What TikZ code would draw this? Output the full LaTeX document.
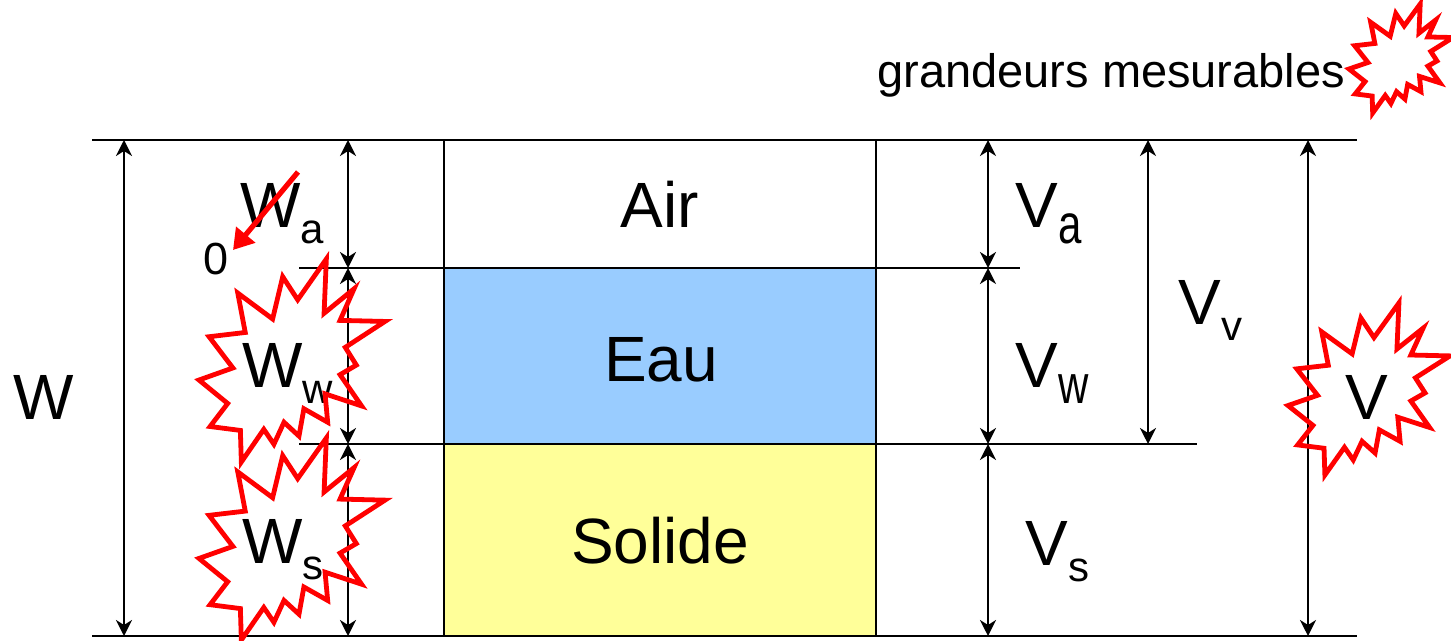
\documentclass[tikz,border=0pt]{standalone}
\usepackage{fontspec}
\setmainfont{Liberation Sans}
\usetikzlibrary{arrows.meta}
\definecolor{eaublue}{HTML}{99CCFF}
\definecolor{solyellow}{HTML}{FFFF99}
\definecolor{boomred}{HTML}{FF0000}
\newcommand\lowsub[2][1]{\raisebox{-8pt}{\scalebox{1}[#1]{\fontsize{21}{21}\selectfont #2}}}
\tikzset{
  big/.style={inner sep=0pt, anchor=base west, font=\fontsize{32}{36}\selectfont},
  phase/.style={inner sep=0pt, anchor=base, font=\fontsize{32}{36}\selectfont},
  thinline/.style={line width=1pt, black},
  dimarrow/.style={line width=1.1pt, black, {Stealth[length=8pt,width=8pt,inset=2.5pt]}-{Stealth[length=8pt,width=8pt,inset=2.5pt]}},
  boomline/.style={draw=boomred, line width=2.4pt, line join=miter},
  boom/.pic={
    \draw[boomline] (114.62,43.42) -- (147.90,0) -- (145.25,57.77) -- (180.07,31.72) -- (163.80,65.32) -- (216,66.45) -- (169.85,94.02) -- (182.70,112.90) -- (163.80,123.10) -- (188.77,156.32) -- (146.40,143.50) -- (149.42,173.70) -- (121.80,159.35) -- (116.12,188.42) -- (98.72,173.70) -- (87,197.12) -- (75.27,181.25) -- (49.17,216) -- (48.05,182.40) -- (12.85,178.25) -- (33.30,153.70) -- (0,128.77) -- (39.35,115.92) -- (11.72,82.70) -- (53.72,78.17) -- (45.02,36.25) -- (85.50,63.82) -- (97.22,18.87) -- cycle;
  }
}
\begin{document}
\begin{tikzpicture}[x=0.5pt,y=-0.5pt]
\clip (0,0) rectangle (1451,641);
\fill[white] (0,0) rectangle (1451,641);

% phase fills
\fill[eaublue] (444,268) rectangle (876,444);
\fill[solyellow] (444,444) rectangle (876,636);

% horizontal reference lines
\coordinate (topL) at (92,140);   \coordinate (topR) at (1357,140);
\coordinate (botL) at (92,636);   \coordinate (botR) at (1357,636);
\coordinate (m1L) at (299,268);   \coordinate (m1R) at (1020,268);
\coordinate (m2L) at (299,444);   \coordinate (m2R) at (1197,444);
\draw[thinline] (topL) -- (topR);
\draw[thinline] (botL) -- (botR);
\draw[thinline] (m1L) -- (m1R);
\draw[thinline] (m2L) -- (m2R);

% box sides
\coordinate (bxLt) at (444,140); \coordinate (bxLb) at (444,636);
\coordinate (bxRt) at (876,140); \coordinate (bxRb) at (876,636);
\draw[thinline] (bxLt) -- (bxLb);
\draw[thinline] (bxRt) -- (bxRb);

% dimension arrows
\coordinate (w0) at (124,140); \coordinate (w1) at (124,636);
\draw[dimarrow] (w0) -- (w1);
\coordinate (p0) at (348,140); \coordinate (p1) at (348,268);
\coordinate (p2) at (348,444); \coordinate (p3) at (348,636);
\draw[dimarrow] (p0) -- (p1);
\draw[dimarrow] (p1) -- (p2);
\draw[dimarrow] (p2) -- (p3);
\coordinate (q0) at (988,140); \coordinate (q1) at (988,268);
\coordinate (q2) at (988,444); \coordinate (q3) at (988,636);
\draw[dimarrow] (q0) -- (q1);
\draw[dimarrow] (q1) -- (q2);
\draw[dimarrow] (q2) -- (q3);
\coordinate (vv0) at (1148,140); \coordinate (vv1) at (1148,444);
\draw[dimarrow] (vv0) -- (vv1);
\coordinate (v0) at (1308,140); \coordinate (v1) at (1308,636);
\draw[dimarrow] (v0) -- (v1);

% phase labels
\node[phase] (air) at (660,228) {Air};
\node[phase] (eau) at (661,382) {Eau};
\node[phase] (sol) at (660,563) {Solide};

% left labels
\node[big] (W) at (13,420) {W};
\node[big] (Wa) at (240,228) {W\lowsub{a}};
\node[inner sep=0pt, anchor=base west, font=\fontsize{22.5}{26}\selectfont] (zero) at (203,275) {0};
\node[big] (Ww) at (242,388) {W\lowsub{w}};
\node[big] (Ws) at (242,563) {W\lowsub{s}};

% right labels
\node[big] (Va) at (1015,228) {V\lowsub[1.32]{a}};
\node[big] (Vw) at (1015,388) {V\lowsub[1.3]{w}};
\node[big] (Vs) at (1025,565) {V\lowsub{s}};
\node[big] (Vv) at (1178,325) {V\lowsub{v}};
\node[big] (V) at (1345,420) {V};

\node[inner sep=0pt, anchor=base west, font=\fontsize{23.5}{28}\selectfont] (gm) at (877,88) {grandeurs mesurables};

% red arrow W_a -> 0
\coordinate (ra0) at (298,172);
\coordinate (ra1) at (233,250);
\draw[draw=boomred, line width=2.6pt, -{Triangle[length=10pt,width=12pt]}] (ra0) -- (ra1);

% explosions
\pic[xscale=186/216, yscale=203/216] at (199,259) {boom};
\pic[xscale=186/216, yscale=202/216] at (199,438) {boom};
\pic[xscale=162/216, yscale=172/216] at (1288,303) {boom};
\pic[xscale=104/216, yscale=109/216] at (1349,4) {boom};
\end{tikzpicture}
\end{document}
